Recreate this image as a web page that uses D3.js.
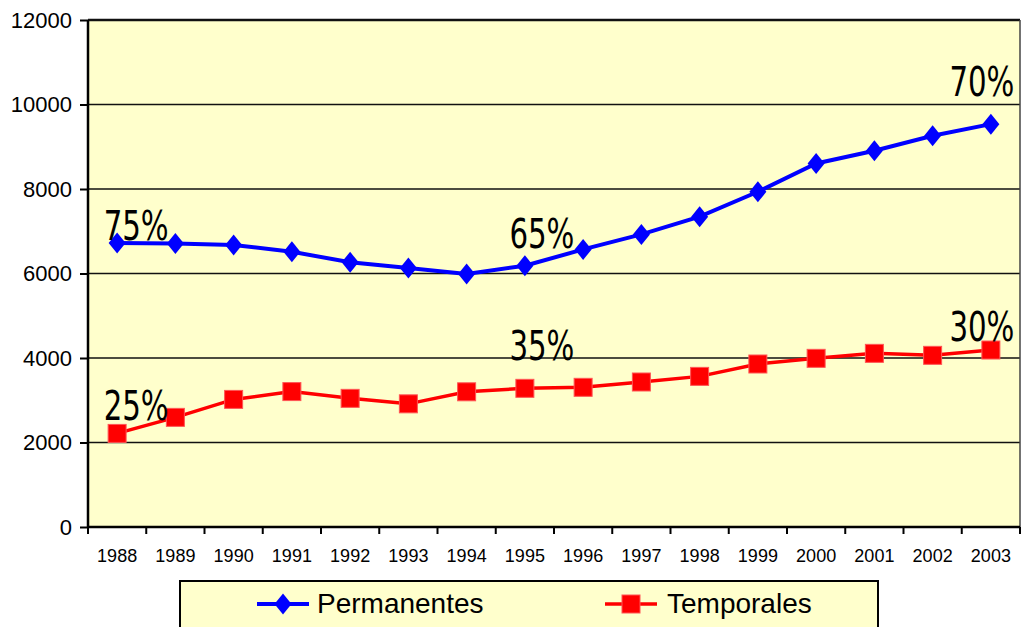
<!DOCTYPE html>
<html>
<head>
<meta charset="utf-8">
<script src="https://cdn.jsdelivr.net/npm/d3@7"></script>
<style>
  body { margin: 0; background: #fff; }
  svg { display: block; }
  .axis text { font-family: "Liberation Sans", Arial, sans-serif; fill: #000; }
  .pct { font-family: "Liberation Sans Narrow", "Arial Narrow", "DejaVu Sans Condensed", sans-serif; font-size: 41px; fill: #000; }
  .legend text { font-family: "Liberation Sans", Arial, sans-serif; font-size: 28px; fill: #000; }
</style>
</head>
<body>
<svg id="chart" width="1023" height="627"></svg>
<script>
var years = ["1988", "1989", "1990", "1991", "1992", "1993", "1994", "1995",
             "1996", "1997", "1998", "1999", "2000", "2001", "2002", "2003"];
var permanentes = [6720, 6710, 6675, 6515, 6265, 6130, 5990, 6185,
                   6570, 6925, 7345, 7935, 8605, 8905, 9260, 9535];
var temporales = [2215, 2595, 3020, 3205, 3045, 2915, 3200, 3282,
                  3306, 3432, 3565, 3858, 3992, 4110, 4063, 4189];
var yTicks = [0, 2000, 4000, 6000, 8000, 10000, 12000];
var seriesNames = ["Permanentes", "Temporales"];
var pctLabels = ["75%", "65%", "70%", "25%", "35%", "30%"];
var pctYears = ["1988", "1995", "2003", "1988", "1995", "2003"];
var pctSeries = [0, 0, 0, 1, 1, 1];

var margin = { top: 20, right: 3, bottom: 100, left: 88 };
var svg = d3.select("#chart");
var width = +svg.attr("width") - margin.left - margin.right;
var height = +svg.attr("height") - margin.top - margin.bottom;
var g = svg.append("g")
    .attr("transform", "translate(" + margin.left + "," + margin.top + ")");

var x = d3.scaleBand().domain(years).range([0, width]);
var y = d3.scaleLinear().domain([0, 12000]).range([height, 0]);
var cx = function (yr) { return x(yr) + x.bandwidth() / 2; };

// plot background
g.append("rect")
    .attr("width", width).attr("height", height)
    .attr("fill", "#FFFFCC");

// gridlines
g.selectAll(".grid")
    .data(yTicks.filter(function (d) { return d > 0; }))
    .enter().append("line")
    .attr("class", "grid")
    .attr("x1", 0).attr("x2", width)
    .attr("y1", function (d) { return y(d); })
    .attr("y2", function (d) { return y(d); })
    .attr("stroke", "#111")
    .attr("stroke-width", function (d) { return d === 12000 ? 2.5 : 1.6; });

// right border
g.append("line")
    .attr("x1", width).attr("x2", width)
    .attr("y1", 0).attr("y2", height)
    .attr("stroke", "#444").attr("stroke-width", 1.5);

// axes
var yAxis = g.append("g")
    .attr("class", "axis")
    .call(d3.axisLeft(y).tickValues(yTicks).tickSize(8).tickPadding(8).tickFormat(d3.format("d")));
yAxis.selectAll("text").style("font-size", "22px");
yAxis.select(".domain").attr("stroke-width", 2.5).attr("d", "M0," + height + "V0");
yAxis.selectAll(".tick line").attr("stroke-width", 2);

var xAxis = g.append("g")
    .attr("class", "axis")
    .attr("transform", "translate(0," + height + ")")
    .call(d3.axisBottom(x).tickSize(0).tickPadding(22));
xAxis.selectAll("text").style("font-size", "18px");
xAxis.select(".domain").attr("stroke-width", 2.5).attr("d", "M0,0H" + width);
xAxis.selectAll(".xt")
    .data(years.concat(["end"]))
    .enter().append("line")
    .attr("class", "xt")
    .attr("x1", function (d, i) { return i * x.step(); })
    .attr("x2", function (d, i) { return i * x.step(); })
    .attr("y1", 0).attr("y2", 7)
    .attr("stroke", "#000").attr("stroke-width", 2);

// lines
var line = d3.line()
    .x(function (d, i) { return cx(years[i]); })
    .y(function (d) { return y(d); });

g.append("path").datum(temporales)
    .attr("d", line).attr("fill", "none")
    .attr("stroke", "#FF0000").attr("stroke-width", 3.5);
g.append("path").datum(permanentes)
    .attr("d", line).attr("fill", "none")
    .attr("stroke", "#0000FF").attr("stroke-width", 4);

function diamond(sel) {
    return sel.append("path")
        .attr("d", "M0,-10.5L8.5,0L0,10.5L-8.5,0Z")
        .attr("fill", "#0000FF");
}
function square(sel) {
    return sel.append("rect")
        .attr("x", -9).attr("y", -9).attr("width", 18).attr("height", 18)
        .attr("fill", "#FF0000").attr("stroke", "#FF5555").attr("stroke-width", 1);
}

g.selectAll(".mt")
    .data(temporales)
    .enter().append("g")
    .attr("class", "mt")
    .attr("transform", function (d, i) { return "translate(" + cx(years[i]) + "," + y(d) + ")"; })
    .call(square);
g.selectAll(".mp")
    .data(permanentes)
    .enter().append("g")
    .attr("class", "mp")
    .attr("transform", function (d, i) { return "translate(" + cx(years[i]) + "," + y(d) + ")"; })
    .call(diamond);

// percentage labels, squeezed horizontally to the narrow look of the original
var pctShift = { "1988": 19, "1995": 17, "2003": -9 };
var pctDy = [-3, -18, -28, -13, -28, -9];
g.selectAll(".pct")
    .data(pctLabels)
    .enter().append("text")
    .attr("class", "pct")
    .attr("text-anchor", "middle")
    .text(function (d) { return d; })
    .attr("transform", function (d, i) {
        var vals = pctSeries[i] === 0 ? permanentes : temporales;
        var px = cx(pctYears[i]) + pctShift[pctYears[i]];
        var py = y(vals[years.indexOf(pctYears[i])]) + pctDy[i];
        var sx = Math.min(1, 65 / this.getComputedTextLength());
        return "translate(" + px + "," + py + ") scale(" + sx + ",1)";
    });

// legend
var legend = svg.append("g").attr("class", "legend");
legend.append("rect")
    .attr("x", 180).attr("y", 581).attr("width", 698).attr("height", 60)
    .attr("fill", "#FFFFCC").attr("stroke", "#000").attr("stroke-width", 2);

var items = legend.selectAll(".item")
    .data(seriesNames)
    .enter().append("g")
    .attr("class", "item")
    .attr("transform", function (d, i) { return "translate(" + (i === 0 ? 283 : 631) + ",604)"; });
items.append("line")
    .attr("x1", -26).attr("x2", 26)
    .attr("stroke", function (d, i) { return i === 0 ? "#0000FF" : "#FF0000"; })
    .attr("stroke-width", function (d, i) { return i === 0 ? 4 : 3.5; });
items.filter(function (d, i) { return i === 0; }).call(diamond);
items.filter(function (d, i) { return i === 1; }).call(square);
items.append("text")
    .attr("x", function (d, i) { return i === 0 ? 34 : 36; })
    .attr("y", 9)
    .text(function (d) { return d; });
</script>
</body>
</html>
